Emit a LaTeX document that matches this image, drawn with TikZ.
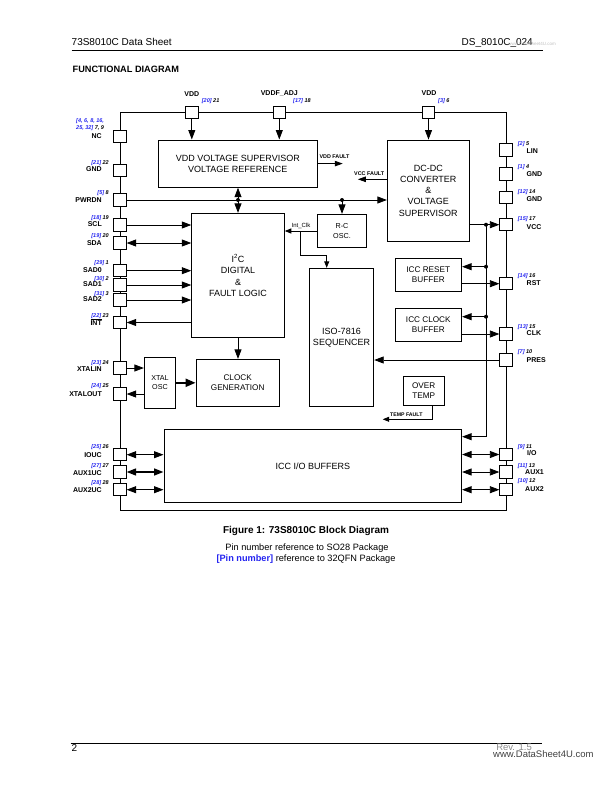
\documentclass[tikz,border=0pt]{standalone}
\usepackage{fontspec}
\setmainfont{Liberation Sans}
\usetikzlibrary{arrows.meta}
\definecolor{pinblue}{RGB}{35,35,240}
\newcommand\pnr[2]{{\color{pinblue}[#1]} #2}
\begin{document}
\begin{tikzpicture}[x=1pt,y=-1pt,
  pinbox/.style={draw, fill=white, line width=0.9pt, minimum width=12.4pt, minimum height=12.4pt, inner sep=0pt},
  blk/.style={draw, line width=0.9pt, align=center, inner sep=0pt, font=\fontsize{9}{11.2}\selectfont},
  sblk/.style={blk, font=\fontsize{8.2}{10}\selectfont},
  tblk/.style={blk, font=\fontsize{7.2}{9.5}\selectfont},
  wire/.style={line width=0.8pt},
  arr/.style={wire, -{Triangle[length=9.5pt,width=7pt]}},
  darr/.style={wire, {Triangle[length=9.5pt,width=7pt]}-{Triangle[length=9.5pt,width=7pt]}},
  marr/.style={wire, -{Triangle[length=8pt,width=5.5pt]}},
  sarr/.style={wire, -{Triangle[length=6.5pt,width=5pt]}},
  nm/.style={font=\fontsize{7}{8}\selectfont\bfseries, inner sep=0pt},
  nb/.style={font=\fontsize{5.5}{6.7}\selectfont\bfseries\itshape, inner sep=0pt},
  lname/.style={nm, anchor=base east},
  rname/.style={nm, anchor=base west},
  lnum/.style={nb, anchor=base east},
  rnum/.style={nb, anchor=base west},
  jdot/.style={circle, fill, inner sep=0pt, minimum size=4pt},
  tiny/.style={font=\fontsize{5.4}{6}\selectfont\bfseries, inner sep=0pt},
]
\useasboundingbox (0,0) rectangle (612,792);

% header / footer
\node[anchor=base west, inner sep=0pt, font=\fontsize{10}{12}\selectfont] (hl) at (71.5,45.3) {73S8010C Data Sheet};
\node[anchor=base east, inner sep=0pt, font=\fontsize{10}{12}\selectfont] (hr) at (533,45.3) {DS\_8010C\_024};
\node[anchor=base east, inner sep=0pt, font=\fontsize{4.5}{5}\selectfont, text=black!25] (hw) at (556,46) {www.DataSheet4U.com};
\draw[line width=0.8pt] (hl.south west |- 0,50) -- (542.5,50);
\node[anchor=base west, inner sep=0pt, font=\fontsize{9.2}{11}\selectfont\bfseries] (title) at (72.5,72.6) {FUNCTIONAL DIAGRAM};

\draw[line width=0.8pt] (70.7,743.5) -- (541.7,743.5);
\node[anchor=base west, inner sep=0pt, font=\fontsize{10}{12}\selectfont] (pg) at (71.5,751.5) {2};
\node[anchor=base east, inner sep=0pt, font=\fontsize{9.5}{11}\selectfont, text=black!45] (rev) at (532,750.5) {Rev. 1.5};
\node[anchor=base west, inner sep=0pt, font=\fontsize{9.5}{11}\selectfont, text=black!75] (wm) at (493,757.5) {www.DataSheet4U.com};

% caption
\node[anchor=base, inner sep=0pt, font=\fontsize{10}{12}\selectfont\bfseries] (cap) at (306,533.5) {Figure 1: 73S8010C Block Diagram};
\node[anchor=base, inner sep=0pt, font=\fontsize{9.2}{11}\selectfont] (cap2) at (307,550.5) {Pin number reference to SO28 Package};
\node[anchor=base, inner sep=0pt, font=\fontsize{9.2}{11}\selectfont] (cap3) at (306,561.5) {{\bfseries\color{pinblue}[Pin number]} reference to 32QFN Package};

% outer bus frame
\coordinate (ftl) at (120,112.5);
\coordinate (fbr) at (506,510);
\draw[wire] (ftl) rectangle (fbr);

% blocks
\node[blk, minimum width=159pt, minimum height=47.3pt] (vddbox) at (237.8,163.6) {VDD VOLTAGE SUPERVISOR\\VOLTAGE REFERENCE};
\node[blk, minimum width=82pt, minimum height=101pt] (dcdc) at (428.3,190.5) {DC-DC\\CONVERTER\\\&\\VOLTAGE\\SUPERVISOR};
\node[blk, minimum width=92.6pt, minimum height=124.4pt] (i2c) at (238,275.5) {I\textsuperscript{2}C\\DIGITAL\\\&\\FAULT LOGIC};
\node[tblk, minimum width=49.4pt, minimum height=33.4pt] (rc) at (342,231) {R-C\\OSC.};
\node[blk, minimum width=64.5pt, minimum height=138.4pt] (iso) at (341.5,337.5) {ISO-7816\\SEQUENCER};
\node[sblk, minimum width=66.7pt, minimum height=33.4pt] (reset) at (428.3,275) {ICC RESET\\BUFFER};
\node[sblk, minimum width=66.7pt, minimum height=33.4pt] (clkbuf) at (428.3,325) {ICC CLOCK\\BUFFER};
\node[sblk, minimum width=40.7pt, minimum height=28.3pt] (otemp) at (423.7,390.8) {OVER\\TEMP};
\node[blk, minimum width=297.7pt, minimum height=73pt] (iobuf) at (312.8,465.8) {ICC I/O BUFFERS};
\node[tblk, minimum width=31.4pt, minimum height=51pt] (xtal) at (160,382.8) {XTAL\\OSC};
\node[sblk, minimum width=83.3pt, minimum height=46.7pt] (clkgen) at (237.7,382.7) {CLOCK\\GENERATION};

% top pins
\node[pinbox] (pVDD1) at (191.8,112.5) {};
\node[pinbox] (pVDDF) at (279.3,112.5) {};
\node[pinbox] (pVDD2) at (428.5,112.5) {};
\node[nm, anchor=base] at (191.8,96.2) {VDD};
\node[nm, anchor=base] at (279.3,95.8) {VDDF\_ADJ};
\node[nm, anchor=base] at (429,95.8) {VDD};
\node[rnum] at (201.7,102) {\pnr{20}{21}};
\node[rnum] at (293,102) {\pnr{17}{18}};
\node[rnum] at (438,102) {\pnr{3}{6}};

% left pins
\node[pinbox] (pNC) at (120,136.7) {};
\node[pinbox] (pGNDL) at (120,170.7) {};
\node[pinbox] (pPWRDN) at (120,200) {};
\node[pinbox] (pSCL) at (120,225) {};
\node[pinbox] (pSDA) at (120,243) {};
\node[pinbox] (pSAD0) at (120,270.7) {};
\node[pinbox] (pSAD1) at (120,285) {};
\node[pinbox] (pSAD2) at (120,300) {};
\node[pinbox] (pINT) at (120,322.5) {};
\node[pinbox] (pXIN) at (120,368) {};
\node[pinbox] (pXOUT) at (120,394) {};
\node[pinbox] (pIOUC) at (120,454.7) {};
\node[pinbox] (pAUX1UC) at (120,472) {};
\node[pinbox] (pAUX2UC) at (120,489.7) {};

\node[nb, anchor=north west, align=left, font=\fontsize{5.5}{6.7}\selectfont\bfseries\itshape] at (76,118.8) {{\color{pinblue}[4, 6, 8, 16,}\\{\color{pinblue}25, 32]} 7, 9};
\node[lname] at (102,138.2) {NC};
\node[lnum] at (109,164.3) {\pnr{21}{22}};  \node[lname] at (102,171.8) {GND};
\node[lnum] at (109,194.7) {\pnr{5}{8}};    \node[lname] at (102,202.5) {PWRDN};
\node[lnum] at (109,219.7) {\pnr{18}{19}};  \node[lname] at (102,226.8) {SCL};
\node[lnum] at (109,237) {\pnr{19}{20}};    \node[lname] at (102,245.2) {SDA};
\node[lnum] at (109,264.7) {\pnr{29}{1}};   \node[lname] at (102,272.5) {SAD0};
\node[lnum] at (109,280.7) {\pnr{30}{2}};   \node[lname] at (102,286.8) {SAD1};
\node[lnum] at (109,295.3) {\pnr{31}{3}};   \node[lname] at (102,301.8) {SAD2};
\node[lnum] at (109,317) {\pnr{22}{23}};    \node[lname] at (102,325.2) {$\overline{\mbox{INT}}$};
\node[lnum] at (109,364.7) {\pnr{23}{24}};  \node[lname] at (102,371.8) {XTALIN};
\node[lnum] at (109,387.7) {\pnr{24}{25}};  \node[lname] at (102,396.5) {XTALOUT};
\node[lnum] at (109,448.7) {\pnr{25}{26}};  \node[lname] at (102,457.5) {IOUC};
\node[lnum] at (109,467) {\pnr{27}{27}};    \node[lname] at (102,475.2) {AUX1UC};
\node[lnum] at (109,484.7) {\pnr{28}{28}};  \node[lname] at (102,492.5) {AUX2UC};

% right pins
\node[pinbox] (pLIN) at (506,150) {};
\node[pinbox] (pGND4) at (506,174) {};
\node[pinbox] (pGND14) at (506,197.7) {};
\node[pinbox] (pVCC) at (506,224.7) {};
\node[pinbox] (pRST) at (506,283.7) {};
\node[pinbox] (pCLK) at (506,334) {};
\node[pinbox] (pPRES) at (506,360) {};
\node[pinbox] (pIO) at (506,454.5) {};
\node[pinbox] (pAUX1) at (506,472) {};
\node[pinbox] (pAUX2) at (506,489.7) {};

\node[rnum] at (517.7,145.3) {\pnr{2}{5}};    \node[rname] at (526.5,153.2) {LIN};
\node[rnum] at (517.7,168) {\pnr{1}{4}};      \node[rname] at (526.5,176.5) {GND};
\node[rnum] at (517.7,193.7) {\pnr{12}{14}};  \node[rname] at (526.5,201.8) {GND};
\node[rnum] at (517.7,220) {\pnr{15}{17}};    \node[rname] at (526.5,229.2) {VCC};
\node[rnum] at (517.7,277) {\pnr{14}{16}};    \node[rname] at (526.5,285.2) {RST};
\node[rnum] at (517.7,328) {\pnr{13}{15}};    \node[rname] at (526.5,335.8) {CLK};
\node[rnum] at (517.7,353.7) {\pnr{7}{10}};   \node[rname] at (526.5,362.5) {PRES};
\node[rnum] at (517.7,448) {\pnr{9}{11}};     \node[rname] at (527,455.8) {I/O};
\node[rnum] at (517.7,467.5) {\pnr{11}{13}};  \node[rname] at (525,474.3) {AUX1};
\node[rnum] at (517.7,482) {\pnr{10}{12}};    \node[rname] at (525,491.8) {AUX2};

% top arrows
\draw[arr] (pVDD1.south) -- (pVDD1.south |- vddbox.north);
\draw[arr] (pVDDF.south) -- (pVDDF.south |- vddbox.north);
\draw[arr] (pVDD2.south) -- (pVDD2.south |- dcdc.north);

% faults
\draw[marr] (vddbox.east) -- ++(25,0) coordinate (vfe);
\node[tiny, anchor=base west] (vflab) at (319.3,158.8) {VDD FAULT};
\draw[marr] ([yshift=11.2pt]dcdc.west) -- ++(-29,0) coordinate (cfe);
\node[tiny, anchor=base west] (cflab) at (354,175.4) {VCC FAULT};

% PWRDN bus
\draw[arr] (pPWRDN.east) -- (pPWRDN.east -| dcdc.west);
\coordinate (jA) at (i2c.north |- pPWRDN.east);
\coordinate (jB) at (rc.north |- pPWRDN.east);
\draw[darr] (i2c.north |- vddbox.south) -- (i2c.north);
\draw[arr] (jB) -- (rc.north);
\node[jdot] at (jA) {};
\node[jdot] at (jB) {};

% I2C pins
\draw[arr] (pSCL.east) -- (pSCL.east -| i2c.west);
\draw[darr] (pSDA.east) -- (pSDA.east -| i2c.west);
\draw[arr] (pSAD0.east) -- (pSAD0.east -| i2c.west);
\draw[arr] (pSAD1.east) -- (pSAD1.east -| i2c.west);
\draw[arr] (pSAD2.east) -- (pSAD2.east -| i2c.west);
\draw[arr] (pINT.east -| i2c.west) -- (pINT.east);

% Int_Clk
\draw[sarr] (rc.west) -- (rc.west -| i2c.east);
\node[inner sep=0pt, font=\fontsize{6}{7}\selectfont, anchor=base west] (iclab) at (291.5,227.3) {Int\_Clk};
\coordinate (ic) at (300.7,231);
\coordinate (ib) at (326.7,255);
\draw[sarr] (ic) |- (ib) -- (ib |- iso.north);

% VCC and buffers
\draw[arr] (dcdc.east |- pVCC.west) -- (pVCC.west);
\coordinate (jV) at (486,224.7);
\coordinate (jR) at (486,266.7);
\coordinate (jC) at (486,316.7);
\coordinate (jI) at (486,436.7);
\draw[wire] (jV) -- (jI);
\draw[arr] (jI) -- (jI -| iobuf.east);
\draw[arr] (jR) -- (jR -| reset.east);
\draw[arr] (jC) -- (jC -| clkbuf.east);
\node[jdot] at (jV) {};
\node[jdot] at (jR) {};
\node[jdot] at (jC) {};
\draw[arr] (reset.east |- pRST.west) -- (pRST.west);
\draw[arr] (clkbuf.east |- pCLK.west) -- (pCLK.west);
\draw[arr] (pPRES.west) -- (pPRES.west -| iso.east);

% over temp
\coordinate (ot) at (432.7,419.3);
\draw[sarr] (ot |- otemp.south) -- (ot) -- ++(-50,0);
\node[tiny, anchor=base west, font=\fontsize{5.2}{6}\selectfont\bfseries] (tflab) at (390,416) {TEMP FAULT};

% I/O buffers
\draw[darr] (pIOUC.east) -- (pIOUC.east -| iobuf.west);
\draw[darr, line width=1.5pt] (pAUX1UC.east) -- (pAUX1UC.east -| iobuf.west);
\draw[darr] (pAUX2UC.east) -- (pAUX2UC.east -| iobuf.west);
\draw[darr] (pIO.west -| iobuf.east) -- (pIO.west);
\draw[darr] (pAUX1.west -| iobuf.east) -- (pAUX1.west);
\draw[darr] (pAUX2.west -| iobuf.east) -- (pAUX2.west);

% clock
\draw[arr] (pXIN.east) -- (pXIN.east -| xtal.west);
\draw[arr] (xtal.west |- pXOUT.east) -- (pXOUT.east);
\draw[line width=2pt, -{Triangle[length=10pt,width=8pt]}] (xtal.east) -- (xtal.east -| clkgen.west);
\draw[arr] (i2c.south) -- (i2c.south |- clkgen.north);
\end{tikzpicture}
\end{document}
